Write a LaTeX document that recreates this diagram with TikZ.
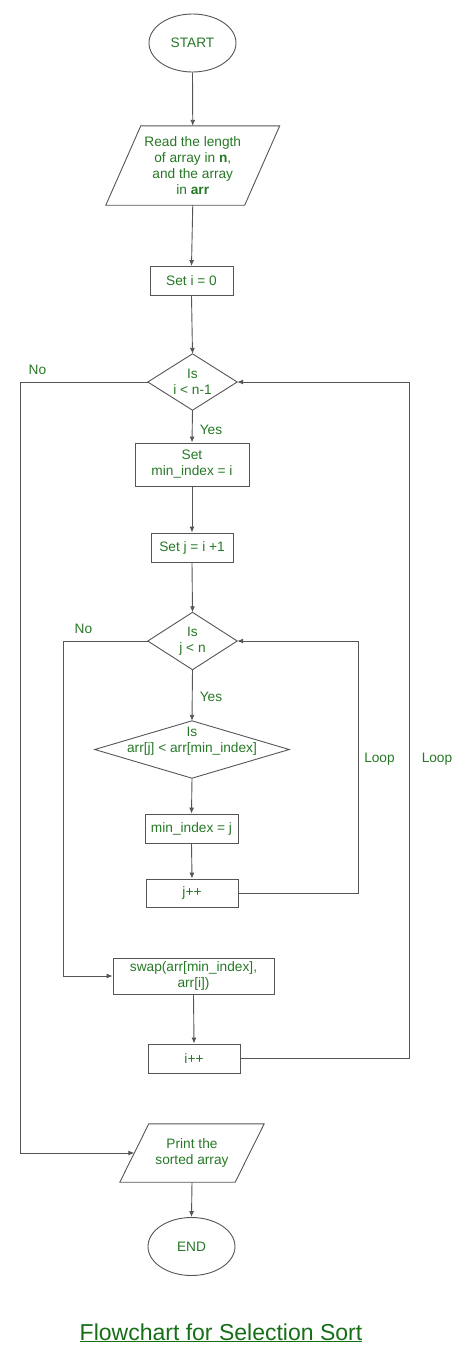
\documentclass[tikz,border=0pt]{standalone}
\usepackage{fontspec}
\setmainfont{Liberation Sans}
\usetikzlibrary{shapes.geometric,arrows.meta,calc}
\definecolor{txtgreen}{RGB}{38,120,38}
\definecolor{titlegreen}{RGB}{22,110,22}
\definecolor{linegray}{RGB}{85,85,85}
\begin{document}
\begin{tikzpicture}[x=1pt,y=-1pt,
  every node/.style={font=\fontsize{13.7}{16}\selectfont, text=txtgreen, align=center, inner sep=0pt},
  shp/.style={draw=linegray, line width=0.9pt},
  procbox/.style={shp, rectangle},
  startend/.style={shp, ellipse, minimum width=87pt, minimum height=58pt},
  holder/.style={rectangle},
  arr/.style={draw=linegray, line width=0.9pt, -{Latex[length=6pt,width=5pt]}},
  lbl/.style={}
]
\useasboundingbox (0,0) rectangle (474,1361);

% nodes
\node[startend] (start) at (192.5,43) {START};
\node[holder, minimum width=138.5pt, minimum height=79pt] (read) at (192.75,165.5)
  {Read the length\\of array in \textbf{n},\\and the array\\in \textbf{arr}};
\draw[shp] ([xshift=17.5pt]read.north west) -- ([xshift=17.5pt]read.north east)
  -- ([xshift=-17.5pt]read.south east) -- ([xshift=-17.5pt]read.south west) -- cycle;
\node[procbox, minimum width=83pt, minimum height=29pt] (seti) at (191.5,281) {Set i = 0};

\node[holder, minimum width=89pt, minimum height=56pt] (d1) at (192.5,382) {Is\\i {<} n-1};
\draw[shp] (d1.north) -- (d1.east) -- (d1.south) -- (d1.west) -- cycle;

\node[procbox, minimum width=114pt, minimum height=43pt] (setmin) at (192,464.5) {Set\\min\_index = i};
\node[procbox, minimum width=82pt, minimum height=29pt] (setj) at (192,547.5) {Set j = i +1};

\node[holder, minimum width=89pt, minimum height=57pt] (d2) at (192.5,641) {Is\\j {<} n};
\draw[shp] (d2.north) -- (d2.east) -- (d2.south) -- (d2.west) -- cycle;

\node[holder, minimum width=194pt, minimum height=57pt] (d3) at (192,749.5) {};
\draw[shp] (d3.north) -- (d3.east) -- (d3.south) -- (d3.west) -- cycle;
\node (d3t) at (192,741) {Is\\arr[j] {<} arr[min\_index]};

\node[procbox, minimum width=93pt, minimum height=29pt] (minj) at (191.5,828.5) {min\_index = j};
\node[procbox, minimum width=92pt, minimum height=28pt] (jpp) at (192,893) {j++};
\node[procbox, minimum width=161pt, minimum height=36pt] (swap) at (193.5,976) {swap(arr[min\_index],\\arr[i])};
\node[procbox, minimum width=92pt, minimum height=29pt] (ipp) at (194,1058.5) {i++};

\node[holder, minimum width=115pt, minimum height=58pt] (print) at (192,1153) {Print the\\sorted array};
\draw[shp] ([xshift=14.5pt]print.north west) -- ([xshift=14.5pt]print.north east)
  -- ([xshift=-14.5pt]print.south east) -- ([xshift=-14.5pt]print.south west) -- cycle;

\node[startend] (end) at (191.5,1246.5) {END};

% labels
\node[lbl] (no1) at (37.5,370) {No};
\node[lbl] (yes1) at (211,430) {Yes};
\node[lbl] (no2) at (83.5,629) {No};
\node[lbl] (yes2) at (211,697) {Yes};
\node[lbl] (loop1) at (379.5,759) {Loop};
\node[lbl] (loop2) at (437,759) {Loop};

% title
\node[font=\fontsize{23}{27}\selectfont, text=titlegreen, anchor=base] (title) at (221,1340)
  {\underline{Flowchart for Selection Sort}};

% corner coordinates
\coordinate (cj) at (358,641);
\coordinate (nj) at (63,976);
\coordinate (ci) at (409,382);
\coordinate (ni) at (20,1153);

% connectors
\draw[arr] (start.south) -- (read.north);
\draw[arr] (read.south) -- (seti.north);
\draw[arr] (seti.south) -- (d1.north);
\draw[arr] (d1.south) -- (setmin.north);
\draw[arr] (setmin.south) -- (setj.north);
\draw[arr] (setj.south) -- (d2.north);
\draw[arr] (d2.south) -- (d3.north);
\draw[arr] (d3.south) -- (minj.north);
\draw[arr] (minj.south) -- (jpp.north);
\draw[arr] (jpp.east) -| (cj) -- (d2.east);
\draw[arr] (d2.west) -| (nj) -- (swap.west);
\draw[arr] (swap.south) -- (ipp.north);
\draw[arr] (ipp.east) -| (ci) -- (d1.east);
\draw[arr] (d1.west) -| (ni) -- (print.west);
\draw[arr] (print.south) -- (end.north);
\end{tikzpicture}
\end{document}
